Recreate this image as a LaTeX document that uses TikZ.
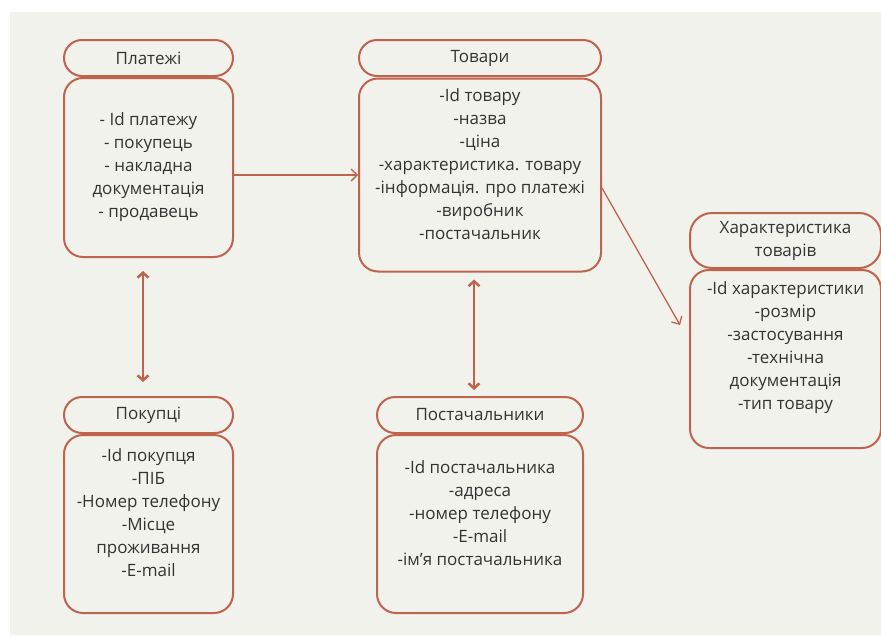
\documentclass[tikz,border=0pt]{standalone}
\usepackage{fontspec}
\setmainfont{Open Sans}
\usetikzlibrary{arrows.meta}
\definecolor{bgcol}{HTML}{F2F2ED}
\definecolor{linecol}{HTML}{C0634D}
\definecolor{txtcol}{HTML}{333333}
\begin{document}
\begin{tikzpicture}[x=1pt,y=-1pt,
   every node/.style={font=\fontsize{17}{23}\selectfont, text=txtcol, align=center},
   titlebox/.style={draw=linecol, line width=2pt, rounded corners=18pt, minimum height=36pt},
   bodybox/.style={draw=linecol, line width=2pt, rounded corners=19pt},
   link/.style={draw=linecol, line width=1.3pt, -{Straight Barb[length=6pt,width=12pt]}},
   both/.style={draw=linecol, line width=2.5pt, {Straight Barb[length=5pt,width=11pt]}-{Straight Barb[length=5pt,width=11pt]}}]
   \fill[white] (0,0) rectangle (881,635);
   \useasboundingbox (0,0) rectangle (881,635);
   \fill[bgcol] (10,12) rectangle (881,635);
   % platezhi
   \node[titlebox, minimum width=169pt] (platt) at (148.5,58) {Платежі};
   \node[bodybox, minimum width=169pt, minimum height=179pt] (platb) at (148.5,167.5) {};
   \node (platf) at (148.5,167.5) {- Id платежу\\- покупець\\- накладна\\документація\\- продавець};
   % tovary
   \node[titlebox, minimum width=242pt] (tovt) at (480,58) {Товари};
   \node[bodybox, minimum width=242pt, minimum height=193pt] (tovb) at (480,175) {};
   \node (tovf) at (480,164) {-Id товару\\-назва\\-ціна\\-характеристика. товару\\-інформація. про платежі\\-виробник\\-постачальник};
   % kharakterystyka
   \node[titlebox, rounded corners=22pt, minimum width=191pt, minimum height=55pt] (chart) at (785.5,240.5) {Характеристика\\товарів};
   \node[bodybox, minimum width=191pt, minimum height=178pt] (charb) at (785.5,359) {};
   \node (charf) at (785.5,348) {-Id характеристики\\-розмір\\-застосування\\-технічна\\документація\\-тип товару};
   % pokuptsi
   \node[titlebox, minimum width=169pt] (pokt) at (148.5,415) {Покупці};
   \node[bodybox, minimum width=169pt, minimum height=178pt] (pokb) at (148.5,524) {};
   \node (pokf) at (148.5,513) {-Id покупця\\-ПІБ\\-Номер телефону\\-Місце\\проживання\\-E-mail};
   % postachalnyky
   \node[titlebox, minimum width=206pt] (post) at (480,415) {Постачальники};
   \node[bodybox, minimum width=206pt, minimum height=178pt] (posb) at (480,524) {};
   \node (posf) at (480,513) {-Id постачальника\\-адреса\\-номер телефону\\-E-mail\\-ім’я постачальника};
   % links
   \coordinate (diagend) at (680,325);
   \draw[link] (platb.east |- tovb.west) -- (tovb.west);
   \draw[link] ([yshift=-13pt]tovb.east) -- (diagend);
   \draw[both, shorten <=13pt, shorten >=14pt] ([xshift=-5.5pt]platb.south) -- ([xshift=-5.5pt]pokt.north);
   \draw[both, shorten <=7pt, shorten >=6pt] ([xshift=-6pt]tovb.south) -- ([xshift=-6pt]post.north);
\end{tikzpicture}
\end{document}
